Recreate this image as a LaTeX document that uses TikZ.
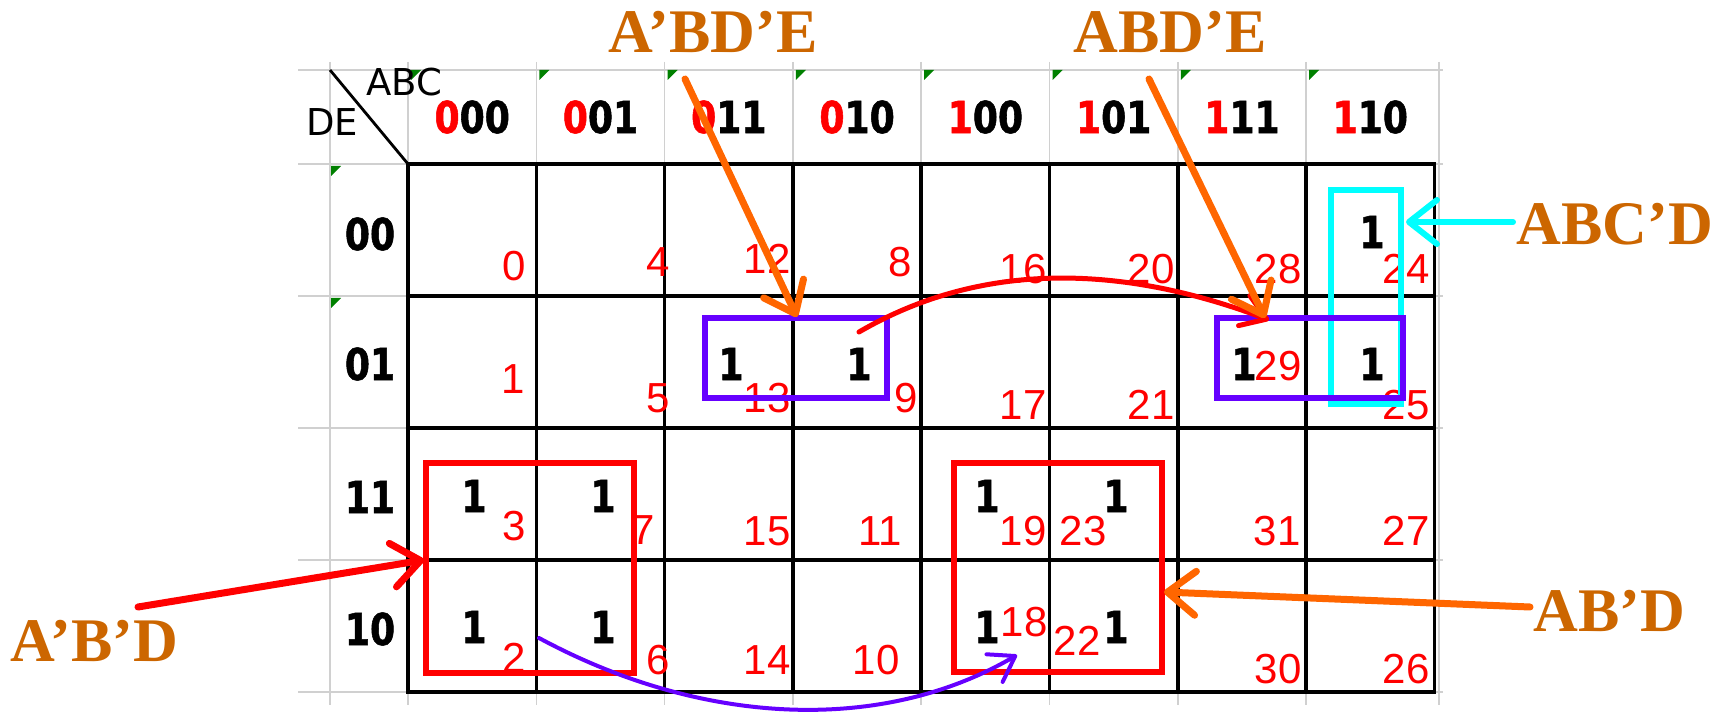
\documentclass[tikz,border=0pt]{standalone}
\usepackage{fontspec}
\usetikzlibrary{arrows.meta}
\newfontfamily\kmapDigitFont[FakeStretch=0.82,BoldFeatures={FakeBold=1.2}]{DejaVu Sans}
\newfontfamily\kmapNameFont{DejaVu Sans}
\newfontfamily\kmapSansFont{Liberation Sans}
\newfontfamily\kmapSerifFont{Liberation Serif}

\definecolor{kmapGrid}{RGB}{208,208,208}
\definecolor{kmapRed}{RGB}{255,0,0}
\definecolor{kmapPurple}{RGB}{102,0,255}
\definecolor{kmapCyan}{RGB}{0,255,255}
\definecolor{kmapOrange}{RGB}{255,102,0}
\definecolor{kmapTerm}{RGB}{204,102,0}
\definecolor{kmapNote}{RGB}{0,128,0}

\begin{document}
\begin{tikzpicture}[x=1pt,y=-1pt,
      header/.style={font=\fontsize{44}{44}\selectfont\kmapDigitFont\bfseries,
        text=black, inner sep=0pt},
      index/.style={font=\fontsize{42}{42}\selectfont\kmapSansFont,
        text=kmapRed, inner sep=0pt},
      varname/.style={font=\fontsize{37}{37}\selectfont\kmapNameFont,
        text=black, inner sep=0pt},
      term/.style={font=\fontsize{62}{62}\selectfont\kmapSerifFont\bfseries,
        text=kmapTerm, anchor=base, inner sep=0pt},
      gridline/.style={draw=kmapGrid, line width=1.5pt},
      cellline/.style={draw=black, line width=3.5pt},
      group/.style={line width=6pt},
      pointer/.style={line width=7pt, line cap=round,
        -{Straight Barb[round,length=28pt,width=44pt]}},
      jump/.style={line cap=round,
        -{Straight Barb[round,length=24pt,width=32pt]}}]
      \useasboundingbox (0,0) rectangle (1717,719);

      \fill[white] (0,0) rectangle (1717,719);

      \foreach \yy in {70,164,296,428,560,692}{
        \draw[gridline] (298,\yy) -- (1443,\yy);}
      \foreach \xx in {330,408,536.3,664.6,792.9,921.2,1049.5,1177.8,1306.1,1439}{
        \draw[gridline] (\xx,62) -- (\xx,705);}

      \draw[cellline] (408,164) rectangle (1434.4,692);
      \foreach \i in {1,...,7}{
        \draw[cellline] ({408+128.3*\i},164) -- ({408+128.3*\i},692);}
      \foreach \yy in {296,428,560}{
        \draw[cellline] (408,\yy) -- (1434.4,\yy);}
      \draw[black, line width=2.8pt] (330,70) -- (408,164);

      \foreach \i in {0,...,7}{
        \fill[kmapNote] ({411+128.3*\i},70) -- ++(10,0) -- ++(-10,10) -- cycle;}
      \foreach \yy in {166,298}{
        \fill[kmapNote] (331,\yy) -- ++(10,0) -- ++(-10,10) -- cycle;}

      \node[varname] (varAbc) at (404,82) {ABC};
      \node[varname] (varDe) at (332,122) {DE};

      \foreach[count=\i from 0] \hi/\lo in {0/00,0/01,0/11,0/10,1/00,1/01,1/11,1/10}{
        \node[header] (col\i) at ({472.2+128.3*\i},117)
          {\textcolor{kmapRed}{\hi}\lo};}
      \foreach \lab/\yy in {00/234,01/364,11/497,10/629}{
        \node[header] (row\lab) at (370,\yy) {\lab};}

      \foreach \num/\xx/\yy in {
          0/514/266,4/658/262,12/767/259,8/900/262,
          16/1023/269,20/1151/269,28/1278/269,24/1406/269,
          1/513/379,5/658/398,13/767/398,9/906/398,
          17/1023/405,21/1151/405,29/1278/366,25/1406/405,
          3/514/526,7/643/530,15/767/531,11/880/531,
          19/1023/531,23/1083/531,31/1277/531,27/1406/531,
          2/514/658,6/658/660,14/767/660,10/876/660,
          18/1024/622,22/1077/641,30/1278/669,26/1406/669}{
        \node[index] (m\num) at (\xx,\yy) {\num};}

      \foreach[count=\k] \xx/\yy in {
          1372/232,731/364,859/364,1244/364,1372/364,
          474/496,603/496,987/496,1116/496,
          474/627,603/627,987/627,1116/627}{
        \node[header] (one\k) at (\xx,\yy) {1};}

      \draw[group, kmapCyan] (1331,190) rectangle (1401,404);
      \draw[group, kmapPurple] (705,318) rectangle (887,398);
      \draw[group, kmapPurple] (1217,318) rectangle (1403,398);
      \draw[group, kmapRed] (426,463) rectangle (634,673);
      \draw[group, kmapRed] (954,463) rectangle (1162,672);

      \node[term] (termApBDpE) at (713,53) {A’BD’E};
      \node[term] (termABDpE) at (1170,53) {ABD’E};
      \node[term] (termABCpD) at (1615,245) {ABC’D};
      \node[term] (termApBpD) at (94,661) {A’B’D};
      \node[term] (termABpD) at (1609,631) {AB’D};

      \coordinate (fromApBDpE) at (685,79);
      \coordinate (toApBDpE) at (797,317);
      \coordinate (fromABDpE) at (1149,79);
      \coordinate (toABDpE) at (1265,318);
      \coordinate (fromABCpD) at (1513,222);
      \coordinate (toABCpD) at (1406,222);
      \coordinate (fromApBpD) at (138,607);
      \coordinate (toApBpD) at (424,560);
      \coordinate (fromABpD) at (1530,607);
      \coordinate (toABpD) at (1164,592);
      \coordinate (pairLeft) at (859,332);
      \coordinate (pairRight) at (1269,320);
      \coordinate (quadLeft) at (539,638);
      \coordinate (quadRight) at (1017,655);

      \draw[jump, kmapRed, line width=5pt] (pairLeft)
        .. controls (1000,250) and (1150,275) .. (pairRight);
      \draw[jump, kmapPurple, line width=4pt] (quadLeft)
        .. controls (700,725) and (880,735) .. (quadRight);

      \draw[pointer, kmapOrange] (fromApBDpE) -- (toApBDpE);
      \draw[pointer, kmapOrange] (fromABDpE) -- (toABDpE);
      \draw[pointer, kmapCyan, line width=6pt] (fromABCpD) -- (toABCpD);
      \draw[pointer, kmapRed] (fromApBpD) -- (toApBpD);
      \draw[pointer, kmapOrange] (fromABpD) -- (toABpD);
    \end{tikzpicture}
\end{document}
